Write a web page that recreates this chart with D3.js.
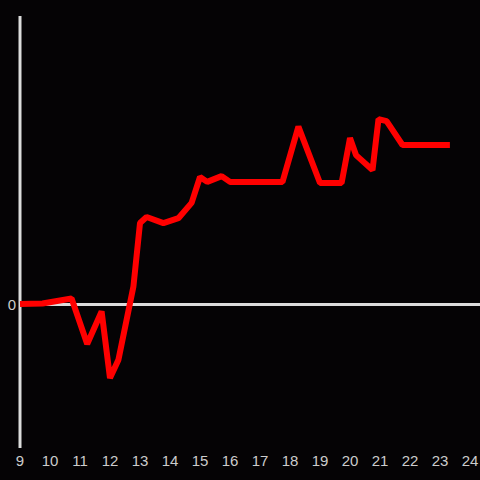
<!DOCTYPE html>
<html>
<head>
<meta charset="utf-8">
<script src="https://cdn.jsdelivr.net/npm/d3@7"></script>
<style>
  html, body { margin: 0; padding: 0; background: #050305; }
  svg { display: block; }
</style>
</head>
<body>
<svg id="chart" width="480" height="480"></svg>
<script>
// hours of the day (x) and value relative to the zero line (y)
let hours = [9, 9.75, 10.72, 11.24, 11.72, 12.0, 12.28, 12.78, 13.0, 13.22, 13.78, 14.28, 14.72,
    15.0, 15.24, 15.72, 16.0, 17.75, 18.28, 19.0, 19.72, 20.0, 20.2, 20.75, 20.95, 21.22, 21.75, 23.33];
let values = [0, 0.002, 0.019, -0.139, -0.026, -0.257, -0.194, 0.060, 0.281, 0.302, 0.281, 0.298, 0.351,
    0.441, 0.424, 0.444, 0.424, 0.424, 0.616, 0.420, 0.420, 0.576, 0.517, 0.465, 0.642, 0.635, 0.552, 0.552];
let xTicks = d3.range(9, 25);
let yTicks = [0];

let svg = d3.select('#chart');
let width = 480, height = 480;

svg.append('rect')
    .attr('width', width)
    .attr('height', height)
    .attr('fill', '#050305');

// x: one hour = 30px, y: zero sits at 304
let x = d3.scaleLinear().domain([9, 24]).range([20, 470]);
let y = d3.scaleLinear().domain([-0.5, 1]).range([448, 16]);

// y axis line
svg.append('line')
    .attr('x1', x(9)).attr('x2', x(9))
    .attr('y1', y(-0.5)).attr('y2', y(1))
    .attr('stroke', '#dcdcdc')
    .attr('stroke-width', 3);

// zero line
svg.append('line')
    .attr('x1', x(9)).attr('x2', width)
    .attr('y1', y(0) + 0.5).attr('y2', y(0) + 0.5)
    .attr('stroke', '#dcdcdc')
    .attr('stroke-width', 3);

// x tick labels
svg.append('g')
    .selectAll('text')
    .data(xTicks)
    .enter()
    .append('text')
        .attr('x', d => x(d))
        .attr('y', 461)
        .attr('dy', '0.35em')
        .attr('text-anchor', 'middle')
        .attr('fill', '#cccccc')
        .style('font', '15px "Liberation Sans", Arial, sans-serif')
        .text(d => d);

// y tick labels
svg.append('g')
    .selectAll('text')
    .data(yTicks)
    .enter()
    .append('text')
        .attr('x', 16)
        .attr('y', d => y(d) + 0.5)
        .attr('dy', '0.35em')
        .attr('text-anchor', 'end')
        .attr('fill', '#cccccc')
        .style('font', '15px "Liberation Sans", Arial, sans-serif')
        .text(d => d);

let line = d3.line()
    .x(d => x(d[0]))
    .y(d => y(d[1]));

svg.append('path')
    .datum(hours.map((h, i) => [h, values[i]]))
    .attr('d', line)
    .attr('fill', 'none')
    .attr('stroke', '#ff0000')
    .attr('stroke-width', 6)
    .attr('stroke-linejoin', 'bevel');
</script>
</body>
</html>
